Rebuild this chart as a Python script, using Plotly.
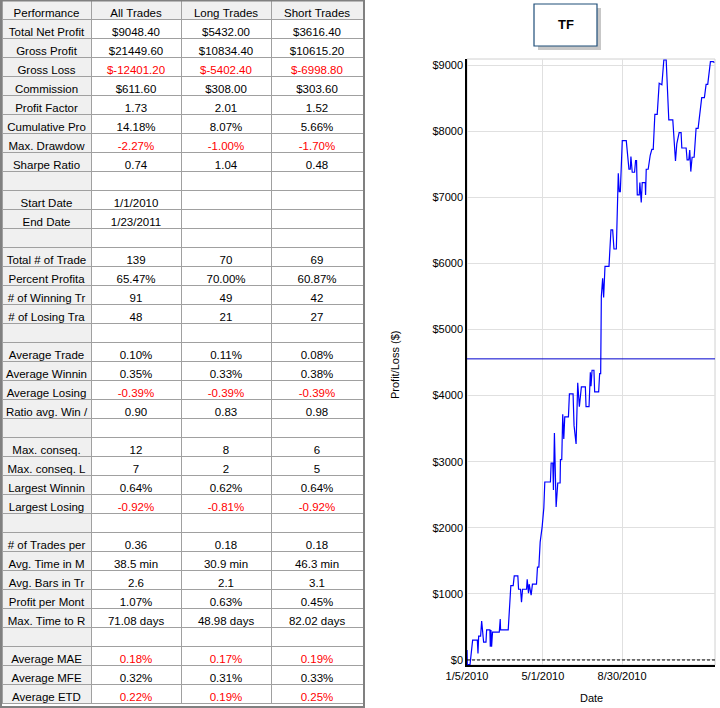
import pandas as pd
import plotly.graph_objects as go

# ---- performance table ----
header = ["Performance", "All Trades", "Long Trades", "Short Trades"]

labels = ["Total Net Profit", "Gross Profit", "Gross Loss", "Commission", "Profit Factor",
          "Cumulative Pro", "Max. Drawdow", "Sharpe Ratio", "", "Start Date", "End Date", "",
          "Total # of Trade", "Percent Profita", "# of Winning Tr", "# of Losing Tra", "",
          "Average Trade", "Average Winnin", "Average Losing", "Ratio avg. Win /", "",
          "Max. conseq.", "Max. conseq. L", "Largest Winnin", "Largest Losing", "",
          "# of Trades per", "Avg. Time in M", "Avg. Bars in Tr", "Profit per Mont",
          "Max. Time to R", "", "Average MAE", "Average MFE", "Average ETD"]

all_trades = ["$9048.40", "$21449.60", "$-12401.20", "$611.60", "1.73", "14.18%", "-2.27%",
              "0.74", "", "1/1/2010", "1/23/2011", "", "139", "65.47%", "91", "48", "",
              "0.10%", "0.35%", "-0.39%", "0.90", "", "12", "7", "0.64%", "-0.92%", "",
              "0.36", "38.5 min", "2.6", "1.07%", "71.08 days", "", "0.18%", "0.32%", "0.22%"]

long_trades = ["$5432.00", "$10834.40", "$-5402.40", "$308.00", "2.01", "8.07%", "-1.00%",
               "1.04", "", "", "", "", "70", "70.00%", "49", "21", "",
               "0.11%", "0.33%", "-0.39%", "0.83", "", "8", "2", "0.62%", "-0.81%", "",
               "0.18", "30.9 min", "2.1", "0.63%", "48.98 days", "", "0.17%", "0.31%", "0.19%"]

short_trades = ["$3616.40", "$10615.20", "$-6998.80", "$303.60", "1.52", "5.66%", "-1.70%",
                "0.48", "", "", "", "", "69", "60.87%", "42", "27", "",
                "0.08%", "0.38%", "-0.39%", "0.98", "", "6", "5", "0.64%", "-0.92%", "",
                "0.18", "46.3 min", "3.1", "0.45%", "82.02 days", "", "0.19%", "0.33%", "0.25%"]

red_rows = ["Gross Loss", "Max. Drawdow", "Average Losing", "Largest Losing",
            "Average MAE", "Average ETD"]

# ---- equity curve (days after 1/5/2010, cumulative P/L in $) ----
start_date = "2010-01-05"
trade_day = [0, 0, 0.5, 4.6, 7, 8.6, 15.8, 16.8, 17.8, 20.8, 22.4, 25.4, 29, 30, 35, 35.6,
             36.6, 37.6, 39, 49.3, 50.8, 51.3, 63, 65.5, 67, 70.6, 72.2, 77.7, 78.8, 81.8,
             83.3, 84.9, 91, 92, 94, 95, 98, 100, 106.2, 107.7, 109.8, 111.8, 114.8, 117.4,
             118.9, 127.5, 128.6, 131.1, 132.1, 133.6, 136.2, 138.7, 142.3, 142.8, 144.8,
             146.3, 147.9, 149.4, 155, 156.5, 162.1, 163.6, 166.7, 169.2, 171.7, 174.8,
             180.9, 181.9, 186.5, 188.5, 189.5, 191.1, 194, 195.1, 201.2, 202.7, 204.3,
             205.3, 207.3, 208.8, 210.9, 217, 220, 222.6, 224.6, 228.2, 231.2, 232.7, 234.3,
             237.3, 243.4, 247.5, 249.5, 250.5, 252.5, 256.1, 257.6, 259.1, 260.2, 263.2,
             264.2, 266.3, 267.8, 272.4, 272.9, 273.9, 276.9, 280, 282.5, 284.6, 285.6,
             287.1, 290.7, 293.7, 297.8, 300.8, 304.4, 308.4, 314.5, 316.1, 318.6, 320.6,
             324.2, 327.2, 328.3, 334.9, 336.4, 338.9, 340.4, 342, 344, 347.1, 350.1, 353.2,
             356.2, 358.7, 362.8, 365.4, 367.9, 370.4, 372, 376.5, 378]
equity = [0, 150, -70, -70, 125, 300, 300, 100, 360, 360, 590, 270, 270, 455, 455, 200,
          455, 200, 420, 420, 620, 455, 455, 910, 1126, 1126, 1273, 1273, 1070, 1070,
          874, 1070, 1070, 1222, 1010, 1146, 980, 1146, 1146, 1404, 1404, 1783, 2010, 2298,
          2692, 2692, 2980, 2980, 2571, 3434, 2313, 2677, 2677, 3030, 3030,
          3717, 3343, 3677, 3677, 4025, 4025, 3545, 3268, 4192, 3833, 4131,
          4131, 3833, 3833, 4353, 4141, 4383, 4383, 4055, 4055, 4333, 4333,
          5500, 5773, 5485, 5955, 5955, 6505, 6505, 6217, 6217, 7363, 7085, 7085,
          7856, 7856, 7423, 7423, 7615, 7378, 7378, 7554, 7554, 7035, 7035,
          7222, 6920, 7222, 7222, 7035, 7423, 7423, 7635, 7725, 7725, 8018,
          8254, 8254, 8723, 8700, 9076, 9076, 8169, 8169, 7952, 7549, 7806,
          7977, 7977, 7745, 7745, 7564, 7564, 7715, 7388, 7605, 7605, 8043, 8043,
          8320, 8506, 8506, 8708, 8708, 8900, 9050, 9050, 9035]
mean_level = 4555

y_ticks = [0, 1000, 2000, 3000, 4000, 5000, 6000, 7000, 8000, 9000]
x_tick_dates = ["2010-01-05", "2010-05-01", "2010-08-30"]
x_tick_text = ["1/5/2010", "5/1/2010", "8/30/2010"]

W, H = 720, 708
dates = pd.Timestamp(start_date) + pd.to_timedelta(trade_day, unit="D")

# non-breaking spaces so plotly does not wrap the narrow cells
nb = lambda col: [s.replace(" ", "\u00a0") for s in col]

# per-cell colours
n = len(labels)
label_fill = ["#F0F0F0"] * n
value_fill = ["white"] * n
value_font = ["#FF0000" if lab in red_rows else "black" for lab in labels]

fig = go.Figure()

fig.add_trace(go.Table(
    domain=dict(x=[2 / W, 363 / W], y=[0, 1]),
    columnwidth=[89, 90, 90, 92],
    header=dict(values=nb(header), height=19, align="center",
                fill_color="#F0F0F0", line=dict(color="#A0A0A0", width=1),
                font=dict(family="Liberation Sans, Arial", size=11.5, color="black")),
    cells=dict(values=[nb(labels), nb(all_trades), nb(long_trades), nb(short_trades)],
               height=19, align="center",
               fill_color=[label_fill, value_fill, value_fill, value_fill],
               line=dict(color="#A0A0A0", width=1),
               font=dict(family="Liberation Sans, Arial", size=11.5,
                         color=["black", value_font, value_font, value_font])),
))

fig.add_trace(go.Scatter(
    x=dates, y=equity, mode="lines", line=dict(color="#0000FF", width=1.2),
    hoverinfo="x+y", showlegend=False,
))

px_x = lambda p: p / W
px_y = lambda p: 1 - p / H

fig.update_layout(
    width=W, height=H, margin=dict(l=0, r=0, t=0, b=0, pad=0, autoexpand=False),
    paper_bgcolor="white", plot_bgcolor="white",
    font=dict(family="Liberation Sans, Arial", size=11, color="black"),
    xaxis=dict(domain=[px_x(467), px_x(715)], type="date", automargin=False,
               range=[pd.Timestamp(start_date), pd.Timestamp(start_date) + pd.Timedelta(days=379)],
               tickvals=x_tick_dates, ticktext=x_tick_text,
               showgrid=True, gridcolor="#E0E0E0", gridwidth=1,
               showline=True, linecolor="black", linewidth=1.5,
               ticks="", zeroline=False, tickfont=dict(size=11)),
    yaxis=dict(domain=[px_y(665), px_y(59)], range=[-76, 9091], automargin=False,
               tickvals=y_ticks, ticktext=["$%d" % v for v in y_ticks],
               showgrid=True, gridcolor="#E0E0E0", gridwidth=1,
               showline=True, linecolor="black", linewidth=1.5,
               ticks="", zeroline=False, tickfont=dict(size=11)),
    shapes=[
        # light frame of plot area (top / right)
        dict(type="rect", xref="x domain", yref="y domain", x0=0, x1=1, y0=0, y1=1,
             line=dict(color="#D0D0D0", width=1), layer="below"),
        # zero line
        dict(type="line", xref="x domain", yref="y", x0=0, x1=1, y0=0, y1=0,
             line=dict(color="black", width=1, dash="3px,2px")),
        # average level
        dict(type="line", xref="x domain", yref="y", x0=0, x1=1, y0=mean_level, y1=mean_level,
             line=dict(color="#0000CD", width=1)),
        # title box shadow and box
        dict(type="rect", xref="paper", yref="paper", x0=px_x(538), x1=px_x(601),
             y0=px_y(50), y1=px_y(8), fillcolor="rgba(0,0,0,0.22)", line=dict(width=0)),
        dict(type="rect", xref="paper", yref="paper", x0=px_x(534), x1=px_x(597),
             y0=px_y(46), y1=px_y(4), fillcolor="white",
             line=dict(color="#1F4E79", width=1.2)),
        # table outer border
        dict(type="rect", xref="paper", yref="paper", x0=px_x(1), x1=px_x(364),
             y0=px_y(707), y1=px_y(0.5), line=dict(color="#808080", width=2)),
    ],
    annotations=[
        dict(text="<b>TF</b>", xref="paper", yref="paper", x=px_x(565.5), y=px_y(25),
             xanchor="center", yanchor="middle", showarrow=False,
             font=dict(size=13, color="black")),
        dict(text="Profit/Loss ($)", xref="paper", yref="paper", x=px_x(395), y=px_y(365),
             xanchor="center", yanchor="middle", textangle=-90, showarrow=False,
             font=dict(size=11, color="black")),
        dict(text="Date", xref="paper", yref="paper", x=px_x(591), y=px_y(698),
             xanchor="center", yanchor="middle", showarrow=False,
             font=dict(size=11, color="black")),
    ],
)

fig.write_html("out.html", config={"displayModeBar": False},
               post_script="document.body.style.margin='0';")
